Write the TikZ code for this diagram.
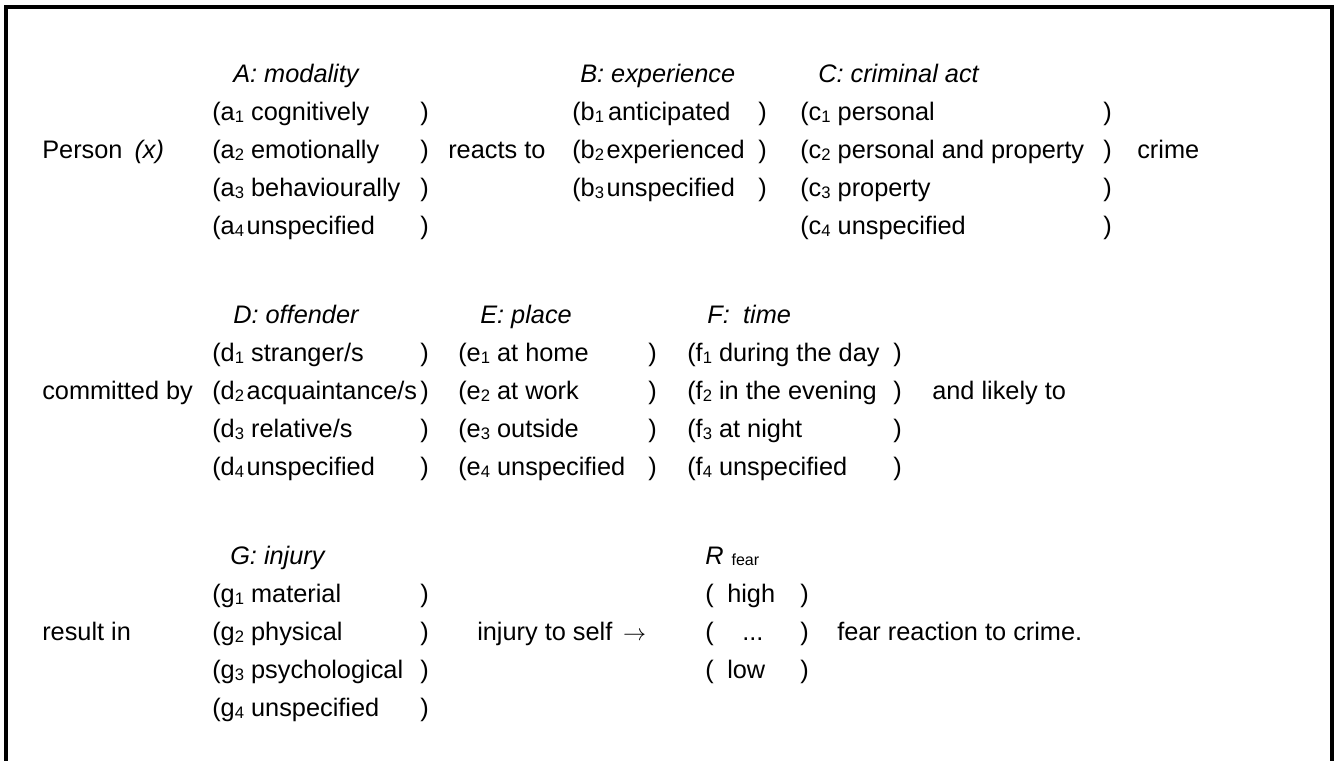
\documentclass[tikz,border=0pt]{standalone}
\usepackage{fontspec}
\setmainfont{Liberation Sans}
\newcommand\lowidx[1]{\raisebox{-2pt}{\fontsize{12.5}{13}\selectfont #1}}
\begin{document}
\begin{tikzpicture}[x=0.75pt,y=-0.75pt,
  txt/.style={anchor=base west,inner sep=0pt,font=\fontsize{19}{23}\selectfont},
  hdr/.style={anchor=base west,inner sep=0pt,font=\fontsize{19}{23}\selectfont\itshape},
  frame/.style={line width=3pt}]
\useasboundingbox (0,0) rectangle (1341,760);
\clip (0,0) rectangle (1341,760);
% outer frame, open at the foot of the page
\draw[frame] (6,790) -- (6,6.5) -- (1332,6.5) -- (1332,790);

% ---- block 1: person reacts to crime
\node[txt] (person) at (42,158) {Person\hspace{9pt}\textit{(x)}};
\node[hdr] (hA) at (233,82) {A: modality};
\node[txt] (a1) at (212,120) {(a\lowidx{1} cognitively};
\node[txt] (a2) at (212,158) {(a\lowidx{2} emotionally};
\node[txt] (a3) at (212,196) {(a\lowidx{3} behaviourally};
\node[txt] (a4) at (212,234) {(a\lowidx{4}\hspace{2pt}unspecified};
\node[txt] (a1r) at (420,120) {)};
\node[txt] (a2r) at (420,158) {)};
\node[txt] (a3r) at (420,196) {)};
\node[txt] (a4r) at (420,234) {)};
\node[txt] (reacts) at (448,158) {reacts to};
\node[hdr] (hB) at (580,82) {B: experience};
\node[txt] (b1) at (572,120) {(b\lowidx{1}\hspace{3pt}anticipated};
\node[txt] (b2) at (572,158) {(b\lowidx{2}\hspace{2pt}experienced};
\node[txt] (b3) at (572,196) {(b\lowidx{3}\hspace{2pt}unspecified};
\node[txt] (b1r) at (758,120) {)};
\node[txt] (b2r) at (758,158) {)};
\node[txt] (b3r) at (758,196) {)};
\node[hdr] (hC) at (818,82) {C: criminal act};
\node[txt] (c1) at (800,120) {(c\lowidx{1} personal};
\node[txt] (c2) at (800,158) {(c\lowidx{2} personal and property};
\node[txt] (c3) at (800,196) {(c\lowidx{3} property};
\node[txt] (c4) at (800,234) {(c\lowidx{4} unspecified};
\node[txt] (c1r) at (1103,120) {)};
\node[txt] (c2r) at (1103,158) {)};
\node[txt] (c3r) at (1103,196) {)};
\node[txt] (c4r) at (1103,234) {)};
\node[txt] (crime) at (1137,158) {crime};

% ---- block 2: offender, place and time
\node[txt] (committed) at (42,399) {committed by};
\node[hdr] (hD) at (233,323) {D: offender};
\node[txt] (d1) at (212,361) {(d\lowidx{1} stranger/s};
\node[txt] (d2) at (212,399) {(d\lowidx{2}\hspace{2pt}acquaintance/s};
\node[txt] (d3) at (212,437) {(d\lowidx{3} relative/s};
\node[txt] (d4) at (212,475) {(d\lowidx{4}\hspace{2pt}unspecified};
\node[txt] (d1r) at (420,361) {)};
\node[txt] (d2r) at (420,399) {)};
\node[txt] (d3r) at (420,437) {)};
\node[txt] (d4r) at (420,475) {)};
\node[hdr] (hE) at (480,323) {E: place};
\node[txt] (e1) at (458,361) {(e\lowidx{1} at home};
\node[txt] (e2) at (458,399) {(e\lowidx{2} at work};
\node[txt] (e3) at (458,437) {(e\lowidx{3} outside};
\node[txt] (e4) at (458,475) {(e\lowidx{4} unspecified};
\node[txt] (e1r) at (648,361) {)};
\node[txt] (e2r) at (648,399) {)};
\node[txt] (e3r) at (648,437) {)};
\node[txt] (e4r) at (648,475) {)};
\node[hdr] (hF) at (707,323) {F:\hspace{10pt}time};
\node[txt] (f1) at (687,361) {(f\lowidx{1} during the day};
\node[txt] (f2) at (687,399) {(f\lowidx{2} in the evening};
\node[txt] (f3) at (687,437) {(f\lowidx{3} at night};
\node[txt] (f4) at (687,475) {(f\lowidx{4} unspecified};
\node[txt] (f1r) at (893,361) {)};
\node[txt] (f2r) at (893,399) {)};
\node[txt] (f3r) at (893,437) {)};
\node[txt] (f4r) at (893,475) {)};
\node[txt] (likely) at (932,399) {and likely to};

% ---- block 3: injury and resulting fear
\node[txt] (result) at (42,640) {result in};
\node[hdr] (hG) at (230,564) {G: injury};
\node[txt] (g1) at (212,602) {(g\lowidx{1} material};
\node[txt] (g2) at (212,640) {(g\lowidx{2} physical};
\node[txt] (g3) at (212,678) {(g\lowidx{3} psychological};
\node[txt] (g4) at (212,716) {(g\lowidx{4} unspecified};
\node[txt] (g1r) at (420,602) {)};
\node[txt] (g2r) at (420,640) {)};
\node[txt] (g3r) at (420,678) {)};
\node[txt] (g4r) at (420,716) {)};
\node[txt] (injury) at (477,640) {injury to self\hspace{8pt}$\rightarrow$};
\node[hdr] (hR) at (705,564) {R\hspace{6pt}\upshape\raisebox{-1pt}{\fontsize{12}{13}\selectfont fear}};
\node[txt] (r1) at (705,602) {(};
\node[txt] (r2) at (705,640) {(};
\node[txt] (r3) at (705,678) {(};
\node[txt] (high) at (727,602) {high};
\node[txt] (dots) at (742,640) {...};
\node[txt] (low) at (727,678) {low};
\node[txt] (r1r) at (800,602) {)};
\node[txt] (r2r) at (800,640) {)};
\node[txt] (r3r) at (800,678) {)};
\node[txt] (reaction) at (837,640) {fear reaction to crime.};
\end{tikzpicture}
\end{document}
